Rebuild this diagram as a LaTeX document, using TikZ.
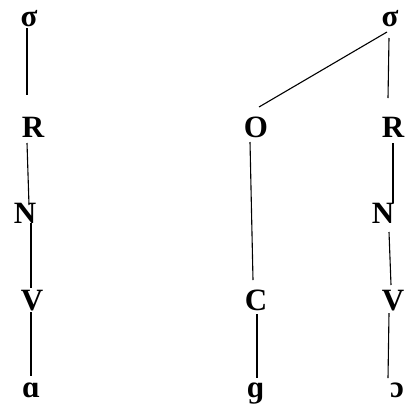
\documentclass[tikz,border=0pt]{standalone}
\usepackage{fontspec}
\setmainfont{Liberation Serif}
\usetikzlibrary{positioning}
\newcommand{\sylfont}{\bfseries\fontsize{31}{36}\selectfont}

\begin{document}
\begin{tikzpicture}[x=1pt, y=-1pt,
            lb/.style={anchor=base, inner sep=0pt, font=\sylfont},
            ln/.style={draw=black, line width=1.1pt}]
            \useasboundingbox (0,0) rectangle (406,405);
            % left syllable: open, rhyme only
            \node[lb] (sL) at (29,26)  {σ};
            \node[lb] (RL) at (33,137) {R};
            \node[lb] (NL) at (25,223) {N};
            \node[lb] (VL) at (32,310) {V};
            \node[lb] (aL) at (31,397) {ɑ};
            % right syllable: onset + rhyme
            \node[lb] (sR) at (390,26)    {σ};
            \node[lb] (O)  at (256,137)   {O};
            \node[lb] (RR) at (393,137)   {R};
            \node[lb] (NR) at (383,223)   {N};
            \node[lb] (C)  at (256,310)   {C};
            \node[lb] (VR) at (393,310)   {V};
            \node[lb] (gR) at (255.5,397) {ɡ};
            \node[lb] (oR) at (397,397)   {ɔ};
            % branches
            \draw[ln] ([xshift=-2pt,yshift=-2pt]sL.base) -- ([xshift=-6pt,yshift=42pt]RL.base);
            \draw[ln] ([xshift=-6pt,yshift=-6pt]RL.base) -- ([xshift=4pt,yshift=18pt]NL.base);
            \draw[ln] ([xshift=6pt]NL.base) -- ([xshift=-1pt,yshift=22pt]VL.base);
            \draw[ln] ([xshift=-1pt,yshift=-2pt]VL.base) -- ([yshift=21pt]aL.base);
            \draw[ln] ([xshift=-3pt,yshift=-6pt]sR.base) -- ([xshift=3pt,yshift=30pt]O.base);
            \draw[ln] ([xshift=-1pt,yshift=-12pt]sR.base) -- ([xshift=-5pt,yshift=39pt]RR.base);
            \draw[ln] ([yshift=-6pt]RR.base) -- ([xshift=10pt,yshift=20pt]NR.base);
            \draw[ln] ([xshift=-6pt,yshift=-5pt]O.base) -- ([xshift=-3pt,yshift=30pt]C.base);
            \draw[ln] ([xshift=6pt,yshift=-9pt]NR.base) -- ([xshift=-2pt,yshift=25pt]VR.base);
            \draw[ln] ([xshift=1pt,yshift=-4pt]C.base) -- ([xshift=1.5pt,yshift=19pt]gR.base);
            \draw[ln] ([xshift=-4pt,yshift=-3pt]VR.base) -- ([xshift=-9pt,yshift=19pt]oR.base);
        \end{tikzpicture}
\end{document}
